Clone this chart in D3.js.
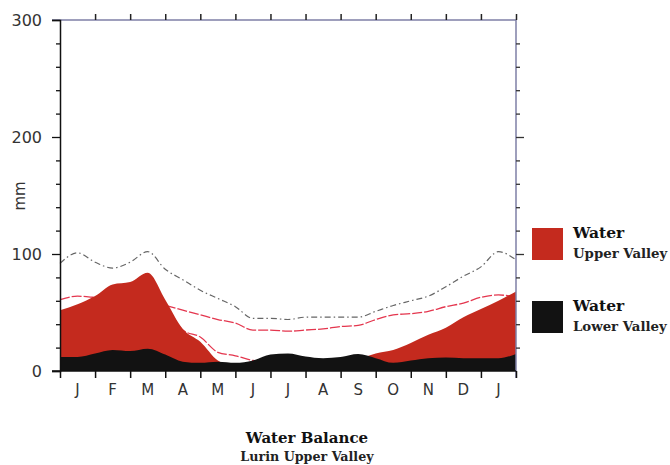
<!DOCTYPE html>
<html>
<head>
<meta charset="utf-8">
<script src="https://cdn.jsdelivr.net/npm/d3@7"></script>
<style>
  html, body { margin: 0; padding: 0; background: #fff; }
  svg { display: block; }
</style>
</head>
<body>
<svg id="chart" width="670" height="465"></svg>
<script>
// Month labels along the bottom (13 months: January through the following January)
const monthLabels = ["J", "F", "M", "A", "M", "J", "J", "A", "S", "O", "N", "D", "J"];

// Sample positions, in months from the start of January
const samplePos = [0, 0.5, 1, 1.5, 2, 2.5, 3, 3.5, 4, 4.5, 5, 5.5, 6, 6.5,
                   7, 7.5, 8, 8.5, 9, 9.5, 10, 10.5, 11, 11.5, 12, 12.5, 13];

// Water, Upper Valley (mm)
const upperValley = [52, 57, 64, 74, 76, 84, 61, 36, 25, 9, 4, 3, 3, 3,
                     3, 3, 4, 10, 15, 18, 24, 31, 37, 46, 53, 60, 68];

// Water, Lower Valley (mm)
const lowerValley = [12, 12, 15, 18, 17, 19, 14, 8, 7, 8, 7, 9, 14, 15,
                     12.5, 11, 12, 14.5, 11, 7, 9, 11, 11.5, 11, 11, 11, 14.5];

// Dash-dot reference curve (mm)
const refCurve = [92, 101, 93, 88, 93, 102, 87, 78, 69, 62, 55, 45, 45, 44,
                  46, 46, 46, 46, 51, 56, 60, 64, 72, 81, 89, 102, 95];

// Upper red dashed curve (mm)
const redCurveA = [61, 64, 63, 66, 62, 59, 56, 52, 48, 44, 41, 35, 35, 34,
                   35, 36, 38, 39, 44, 48, 49, 51, 55, 58, 63, 65, 63];

// Lower red dashed curve (mm), spring recession only
const redCurveBPos = [2.5, 3, 3.5, 4, 4.5, 5, 5.5, 6];
const redCurveB = [70, 57, 35, 29, 16, 13, 9, 7];

// Y axis
const yTicks = [0, 100, 200, 300];
const yMinorTicks = [20, 40, 60, 80, 120, 140, 160, 180, 220, 240, 260, 280];

const legendItems = [
  { title: "Water", sub: "Upper Valley", color: "#c42a1e" },
  { title: "Water", sub: "Lower Valley", color: "#121212" }
];

const svg = d3.select("#chart");
const plot = { left: 60, right: 516, top: 20, bottom: 371 };

const x = d3.scaleLinear().domain([0, 13]).range([plot.left, plot.right]);
const y = d3.scaleLinear().domain([0, 300]).range([plot.bottom, plot.top]);

const series = vals => samplePos.map((p, i) => [p, vals[i]]);

const lineGen = d3.line().x(d => x(d[0])).y(d => y(d[1])).curve(d3.curveMonotoneX);
const areaGen = d3.area().x(d => x(d[0])).y0(y(0)).y1(d => y(d[1])).curve(d3.curveMonotoneX);

const g = svg.append("g");

// Red dashed curves sit behind the filled areas
g.append("path")
  .attr("d", lineGen(series(redCurveA)))
  .attr("fill", "none").attr("stroke", "#e4364e").attr("stroke-width", 1.3)
  .attr("stroke-dasharray", "10,2");

g.append("path")
  .attr("d", lineGen(redCurveBPos.map((p, i) => [p, redCurveB[i]])))
  .attr("fill", "none").attr("stroke", "#e4364e").attr("stroke-width", 1.3)
  .attr("stroke-dasharray", "10,2");

// Filled areas
g.append("path").attr("d", areaGen(series(upperValley))).attr("fill", "#c42a1e");
g.append("path").attr("d", areaGen(series(lowerValley))).attr("fill", "#121212");

// Dash-dot curve
g.append("path")
  .attr("d", lineGen(series(refCurve)))
  .attr("fill", "none").attr("stroke", "#666").attr("stroke-width", 1.2)
  .attr("stroke-dasharray", "6,3,1.5,3");

// Frame: top and right in slate blue-grey, left and bottom in black
svg.append("line").attr("x1", plot.left - 8).attr("x2", plot.right)
  .attr("y1", plot.top).attr("y2", plot.top)
  .attr("stroke", "#7e7fa6").attr("stroke-width", 1.5);
svg.append("line").attr("x1", plot.right).attr("x2", plot.right)
  .attr("y1", plot.top).attr("y2", plot.bottom + 7)
  .attr("stroke", "#7e7fa6").attr("stroke-width", 1.5);

// Left axis
const yAxis = d3.axisLeft(y).tickValues(yTicks).tickSize(8).tickPadding(10).tickFormat(d3.format("d"));
const yAxisG = svg.append("g").attr("transform", `translate(${plot.left},0)`).call(yAxis);
yAxisG.select(".domain").attr("stroke", "#111").attr("stroke-width", 1.5);
yAxisG.selectAll(".tick line").attr("stroke", "#111").attr("stroke-width", 1.3);
yAxisG.selectAll(".tick text")
  .attr("font-family", "DejaVu Sans, sans-serif").attr("font-size", 16).attr("fill", "#333");

const yMinor = d3.axisLeft(y).tickValues(yMinorTicks).tickSize(4).tickFormat("");
const yMinorG = svg.append("g").attr("transform", `translate(${plot.left},0)`).call(yMinor);
yMinorG.select(".domain").remove();
yMinorG.selectAll(".tick line").attr("stroke", "#111").attr("stroke-width", 1.3);

// Right axis ticks (outward)
const yRight = d3.axisRight(y).tickValues(yMinorTicks).tickSize(4).tickFormat("");
const yRightG = svg.append("g").attr("transform", `translate(${plot.right},0)`).call(yRight);
yRightG.select(".domain").remove();
yRightG.selectAll(".tick line").attr("stroke", "#333").attr("stroke-width", 1.3);
const yRightMajor = d3.axisRight(y).tickValues([100, 200]).tickSize(8).tickFormat("");
const yRightMajorG = svg.append("g").attr("transform", `translate(${plot.right},0)`).call(yRightMajor);
yRightMajorG.select(".domain").remove();
yRightMajorG.selectAll(".tick line").attr("stroke", "#333").attr("stroke-width", 1.3);

// Bottom axis: month boundaries as ticks, labels centred within each month
const boundaries = d3.range(0, 14);
const xAxis = d3.axisBottom(x).tickValues(boundaries).tickSize(7).tickFormat("");
const xAxisG = svg.append("g").attr("transform", `translate(0,${plot.bottom})`).call(xAxis);
xAxisG.select(".domain").remove();
xAxisG.selectAll(".tick line").attr("stroke", "#111").attr("stroke-width", 1.5);
svg.append("line").attr("x1", plot.left - 8).attr("x2", plot.right)
  .attr("y1", plot.bottom).attr("y2", plot.bottom)
  .attr("stroke", "#111").attr("stroke-width", 1.5);

svg.append("g").selectAll("text").data(monthLabels).join("text")
  .attr("x", (d, i) => x(i + 0.5))
  .attr("y", 395)
  .attr("text-anchor", "middle")
  .attr("font-family", "DejaVu Sans, sans-serif").attr("font-size", 15).attr("fill", "#333")
  .text(d => d);

// Top axis ticks (outward)
const xTop = d3.axisTop(x).tickValues(d3.range(1, 14)).tickSize(6).tickFormat("");
const xTopG = svg.append("g").attr("transform", `translate(0,${plot.top})`).call(xTop);
xTopG.select(".domain").remove();
xTopG.selectAll(".tick line").attr("stroke", "#222").attr("stroke-width", 1.5);

// Y axis title
svg.append("text")
  .attr("transform", "translate(25,196) rotate(-90)")
  .attr("text-anchor", "middle")
  .attr("font-family", "DejaVu Sans, sans-serif").attr("font-size", 15).attr("fill", "#333")
  .text("mm");

// Legend
const legend = svg.append("g").selectAll("g").data(legendItems).join("g")
  .attr("transform", (d, i) => `translate(532,${228 + i * 73})`);
legend.append("rect").attr("width", 31).attr("height", 32).attr("fill", d => d.color);
legend.append("text").attr("x", 41).attr("y", 10)
  .attr("font-family", "DejaVu Serif, serif").attr("font-weight", "bold")
  .attr("font-size", 15.5).attr("fill", "#111").text(d => d.title);
legend.append("text").attr("x", 41).attr("y", 30)
  .attr("font-family", "DejaVu Serif, serif").attr("font-weight", "bold")
  .attr("font-size", 13.3).attr("fill", "#222").text(d => d.sub);

// Title block
svg.append("text").attr("x", 307).attr("y", 443).attr("text-anchor", "middle")
  .attr("font-family", "DejaVu Serif, serif").attr("font-weight", "bold")
  .attr("font-size", 15).attr("fill", "#111").text("Water Balance");
svg.append("text").attr("x", 307).attr("y", 461).attr("text-anchor", "middle")
  .attr("font-family", "DejaVu Serif, serif").attr("font-weight", "bold")
  .attr("font-size", 12.7).attr("fill", "#222").text("Lurin Upper Valley");
</script>
</body>
</html>
